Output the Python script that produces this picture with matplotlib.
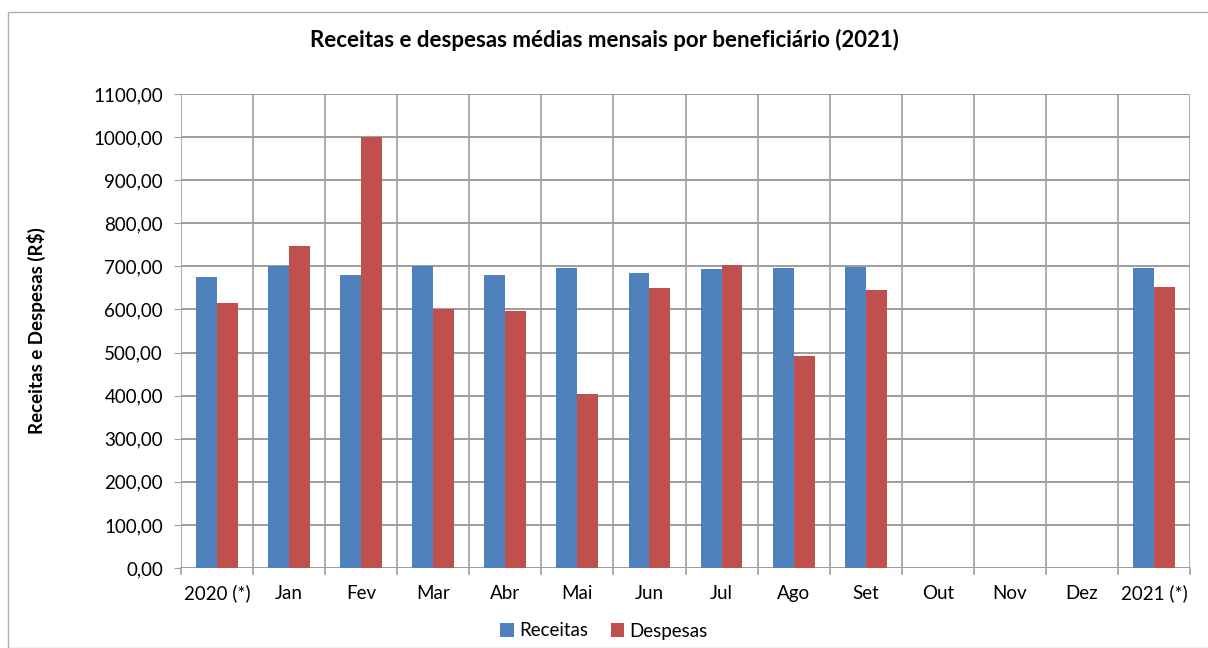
import numpy as np
import matplotlib
matplotlib.use('Agg')
import matplotlib.pyplot as plt
from matplotlib.patches import Rectangle

plt.rcParams['font.family'] = ['Lato', 'DejaVu Sans']

categorias = ['2020 (*)', 'Jan', 'Fev', 'Mar', 'Abr', 'Mai', 'Jun', 'Jul',
              'Ago', 'Set', 'Out', 'Nov', 'Dez', '2021 (*)']
receitas = [675, 700, 681, 700, 679, 697, 684, 695, 697, 698, np.nan, np.nan, np.nan, 697]
despesas = [615, 747, 1000, 602, 596, 404, 650, 703, 491, 645, np.nan, np.nan, np.nan, 653]
yticks = np.arange(0, 1101, 100)

cor_rec = '#4f81bd'
cor_desp = '#c0504d'
cor_grade = '#a0a0a0'

fig = plt.figure(figsize=(12.08, 6.48), dpi=100)
ax = fig.add_axes([181/1208, 1 - 568/648, (1190-181)/1208, (568-94)/648])

x = np.arange(len(categorias))
w = 0.29
ax.bar(x - w/2, receitas, w, color=cor_rec, label='Receitas', zorder=3)
ax.bar(x + w/2, despesas, w, color=cor_desp, label='Despesas', zorder=3)

ax.set_xlim(-0.5, len(categorias) - 0.5)
ax.set_ylim(0, 1100)
ax.set_yticks(yticks)
ax.set_yticklabels([f'{v:.2f}'.replace('.', ',') for v in yticks], fontsize=13.5)
ax.set_xticks(x)
ax.set_xticklabels(categorias, fontsize=13.5)
ax.tick_params(axis='x', length=0, pad=12)
ax.tick_params(axis='y', length=5, color=cor_grade, pad=8)

# grade horizontal e vertical
for v in yticks:
    ax.axhline(v, color='#8c8c8c', lw=1.2, zorder=1)
for b in np.arange(-0.5, len(categorias), 1):
    ax.axvline(b, color=cor_grade, lw=1.2, zorder=1)
    ax.plot([b, b], [0, -0.012], transform=ax.get_xaxis_transform(),
            color=cor_grade, lw=1.2, clip_on=False)

for s in ax.spines.values():
    s.set_visible(False)

ax.set_ylabel('Receitas e Despesas (R$)', fontsize=13.5, fontweight='bold', labelpad=34)
fig.text(0.5, 1 - 40/648, 'Receitas e despesas médias mensais por beneficiário (2021)',
         ha='center', va='center', fontsize=16, fontweight='bold')

fig.legend(loc='center', bbox_to_anchor=(0.5, 1 - 631/648), ncol=2, frameon=False,
           fontsize=13.5, handlelength=0.7, handleheight=0.7, handletextpad=0.3,
           columnspacing=1.2)

fig.patches.append(Rectangle((8/1208, 0), 1.5, 1 - 12/648, transform=fig.transFigure,
                             fill=False, edgecolor='#b0b0b0', lw=1))

fig.savefig('out.png', dpi=100)
